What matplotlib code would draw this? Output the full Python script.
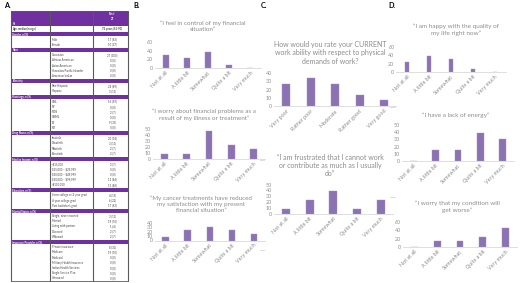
"""Figura compuesta: tabla demográfica (A) y encuestas en barras (B, C, D).

Genera 'out.png' (520x283 px).
"""
import matplotlib.pyplot as plt
from matplotlib.patches import Rectangle

plt.rcParams['font.family'] = ['Lato', 'DejaVu Sans']

W, H = 520, 283
PURPLE = "#7030a0"
BAR = "#8b72b1"
GRAY_TXT = "#8c8c8c"

# ---------------- datos: encuestas ----------------
freq_cats = ["Not at all", "A little bit", "Somewhat", "Quite a bit", "Very much"]
work_cats = ["Very poor", "Rather poor", "Moderate", "Rather good", "Very good"]

control_vals = [30.8, 23.1, 38.5, 7.7, 0]
worry_fin_vals = [7.7, 7.7, 46.2, 23.1, 15.4]
satisf_vals = [7.7, 23.1, 30.8, 23.1, 15.4]
work_ability_vals = [27, 34, 27, 13, 7]
frustrated_vals = [7.7, 23.1, 38.5, 7.7, 23.1]
happy_vals = [23.1, 38.5, 30.8, 7.7, 0]
energy_vals = [0, 15.4, 15.4, 38.5, 30.8]
worse_vals = [0, 15.4, 15.4, 23.1, 46.2]

# ---------------- datos: tabla ----------------
n_total = "27"
age_value = "72 years (51-90)"
gender_labels = ["Male", "Female"]
gender_vals = ["17 (63)", "10 (37)"]
race_labels = ["Caucasian", "African American", "Asian American",
               "Hawaiian/Pacific Islander", "American Indian"]
race_vals = ["27 (100)", "0 (0)", "0 (0)", "0 (0)", "0 (0)"]
eth_labels = ["Non-Hispanic", "Hispanic"]
eth_vals = ["24 (89)", "3 (11)"]
hist_labels = ["CML", "PV", "MDS", "CMML", "ET", "MF"]
hist_vals = ["16 (59)", "0 (0)", "2 (7)", "0 (0)", "9 (33)", "0 (0)"]
drug_labels = ["Imatinib", "Dasatinib", "Nilotinib", "Bosutinib"]
drug_vals = ["20 (74)", "3 (11)", "2 (7)", "2 (7)"]
income_labels = ["<$15,000", "$15,000 – $29,999", "$30,000 – $49,999",
                 "$50,000 – $99,999", ">$100,000"]
income_vals = ["2 (7)", "0 (0)", "0 (0)", "12 (44)", "13 (48)"]
edu_labels = ["Some college or 2-year grad", "4-year college grad",
              "Post bachelor's grad"]
edu_vals = ["4 (15)", "6 (22)", "17 (63)"]
marital_labels = ["Single, never married", "Married", "Living with partner",
                  "Divorced", "Widowed"]
marital_vals = ["3 (11)", "19 (70)", "1 (4)", "2 (7)", "2 (7)"]
ins_labels = ["Private insurance", "Medicare", "Medicaid",
              "Military Health Insurance", "Indian Health Services",
              "Single Service Plan", "Uninsured"]
ins_vals = ["8 (30)", "19 (70)", "0 (0)", "0 (0)", "0 (0)", "0 (0)", "0 (0)"]

sections = [
    ("Gender, n (%)", gender_labels, gender_vals),
    ("Race", race_labels, race_vals),
    ("Ethnicity", eth_labels, eth_vals),
    ("Histology, n (%)", hist_labels, hist_vals),
    ("Drug Name, n (%)", drug_labels, drug_vals),
    ("Median Income, n (%)", income_labels, income_vals),
    ("Education, n (%)", edu_labels, edu_vals),
    ("Marital Status, n (%)", marital_labels, marital_vals),
    ("Insurance Provider, n (%)", ins_labels, ins_vals),
]


def px_axes(fig, left, top, right, bottom):
    return fig.add_axes([left / W, 1 - bottom / H, (right - left) / W, (bottom - top) / H])


def draw_table(ax):
    x0, x1, x2, x3 = 11, 50, 93, 128
    top, bottom = 11, 281
    rows = [("top", "", "", "Total"), ("top", "", "", n_total), ("top", "N", "", ""),
            ("row", "Age, median (range)", "", age_value)]
    for head, labels, vals in sections:
        rows.append(("hdr", head, "", ""))
        rows += [("row", "", lab, v) for lab, v in zip(labels, vals)]
    pitch = (bottom - top) / len(rows)

    ax.add_patch(Rectangle((x0, top), x3 - x0, 3 * pitch - 0.4, color=PURPLE, lw=0))
    for i, (kind, c1, c2, c3) in enumerate(rows):
        y = top + i * pitch
        yc = y + pitch / 2
        if kind == "hdr":
            ax.add_patch(Rectangle((x0, y + 0.6), x3 - x0, pitch - 1.2, color=PURPLE, lw=0))
        col = "white" if kind in ("top", "hdr") else "#404040"
        bold = "bold" if kind in ("top", "hdr") or c1.startswith("Age") else "normal"
        kw = dict(fontsize=1.95, color=col, va="center", fontweight=bold)
        # los "$" se escapan para que no se interpreten como mathtext
        if c1:
            ax.text(x0 + 1.5, yc, c1.replace("$", r"\$"), ha="left", **kw)
        if c2:
            ax.text(x1 + 2, yc, c2.replace("$", r"\$"), ha="left", **kw)
        if c3:
            ax.text((x2 + x3) / 2 + 2, yc, c3, ha="center", **kw)
    # bordes y columnas
    for x in (x0, x1, x2, x3):
        ax.plot([x, x], [top, bottom], color="#595959", lw=0.8, solid_capstyle="butt")
    for y in (top, bottom):
        ax.plot([x0, x3], [y, y], color="#595959", lw=0.6)


def draw_bars(fig, spec):
    ax = px_axes(fig, *spec["rect"])
    ax.set_facecolor("none")
    x = range(len(spec["cats"]))
    ax.bar(x, spec["vals"], width=spec["width"], color=BAR, edgecolor="#a28fc6", lw=0.3)
    ax.set_xlim(-0.5, len(spec["cats"]) - 0.5)
    ax.set_ylim(0, spec["ymax"])
    ax.set_yticks(range(0, spec["ymax"] + 1, spec["step"]))
    ax.set_xticks(list(x))
    ax.set_xticklabels(spec["cats"], rotation=45, ha="right", rotation_mode="anchor")
    ax.tick_params(length=0, labelsize=3.9, labelcolor=GRAY_TXT, pad=1.5)
    for s in ("top", "right", "left"):
        ax.spines[s].set_visible(False)
    ax.spines["bottom"].set_color("#d9d9d9")
    ax.spines["bottom"].set_linewidth(0.6)
    tx, ty, fs, ls = spec["title_pos"]
    fig.text(tx / W, 1 - ty / H, spec["title"], ha="center", va="center",
             fontsize=fs, color=GRAY_TXT, linespacing=ls)


charts = [
    dict(vals=control_vals, cats=freq_cats, ymax=60, step=20, width=0.3,
         rect=(155.2, 42.5, 260.8, 68),
         title="“I feel in control of my financial\nsituation”",
         title_pos=(203, 26, 4.5, 1.25)),
    dict(vals=worry_fin_vals, cats=freq_cats, ymax=50, step=10, width=0.3,
         rect=(153.1, 128.7, 264.9, 158.7),
         title="“I worry about financial problems as a\nresult of my illness or treatment”",
         title_pos=(204, 114.6, 4.5, 1.25)),
    dict(vals=satisf_vals, cats=freq_cats, ymax=40, step=10, width=0.3,
         rect=(154.7, 223, 265, 240.5),
         title="“My cancer treatments have reduced\nmy satisfaction with my present\nfinancial situation”",
         title_pos=(201, 204, 4.5, 1.25)),
    dict(vals=work_ability_vals, cats=work_cats, ymax=40, step=10, width=0.33,
         rect=(273.8, 72.7, 396.3, 106.3),
         title="How would you rate your CURRENT\nwork ability with respect to physical\ndemands of work?",
         title_pos=(330, 53, 5.0, 1.25)),
    dict(vals=frustrated_vals, cats=freq_cats, ymax=50, step=10, width=0.33,
         rect=(274.2, 184.7, 392.5, 213.7),
         title="“I am frustrated that I cannot work\nor contribute as much as I usually\ndo”",
         title_pos=(330, 165.5, 5.0, 1.25)),
    dict(vals=happy_vals, cats=freq_cats, ymax=60, step=20, width=0.18,
         rect=(396.4, 46.7, 505.6, 72.3),
         title="“I am happy with the quality of\nmy life right now”",
         title_pos=(456, 29.7, 4.6, 1.25)),
    dict(vals=energy_vals, cats=freq_cats, ymax=50, step=10, width=0.3,
         rect=(402, 125, 514, 161),
         title="“I have a lack of energy”",
         title_pos=(456, 115.7, 4.6, 1.25)),
    dict(vals=worse_vals, cats=freq_cats, ymax=60, step=20, width=0.3,
         rect=(403.3, 221.7, 516.7, 247.3),
         title="“I worry that my condition will\nget worse”",
         title_pos=(457, 207, 4.6, 1.25)),
]

fig = plt.figure(figsize=(W / 100, H / 100), dpi=100)
canvas = fig.add_axes([0, 0, 1, 1])
canvas.set_xlim(0, W)
canvas.set_ylim(H, 0)
canvas.axis("off")

draw_table(canvas)
for spec in charts:
    draw_bars(fig, spec)

# bordes de gráficos vecinos que asoman
for (xa, xb, y) in [(260, 264, 160), (260, 264, 250), (390, 395, 107), (390, 395, 197)]:
    canvas.plot([xa, xb], [y, y], color="#d9d9d9", lw=0.6)

for lab, x in [("A.", 4), ("B.", 133), ("C.", 261), ("D.", 388)]:
    canvas.text(x, 5, lab, fontsize=5.2, fontweight="bold", ha="left", va="center")

fig.savefig("out.png", dpi=100, facecolor="white")
